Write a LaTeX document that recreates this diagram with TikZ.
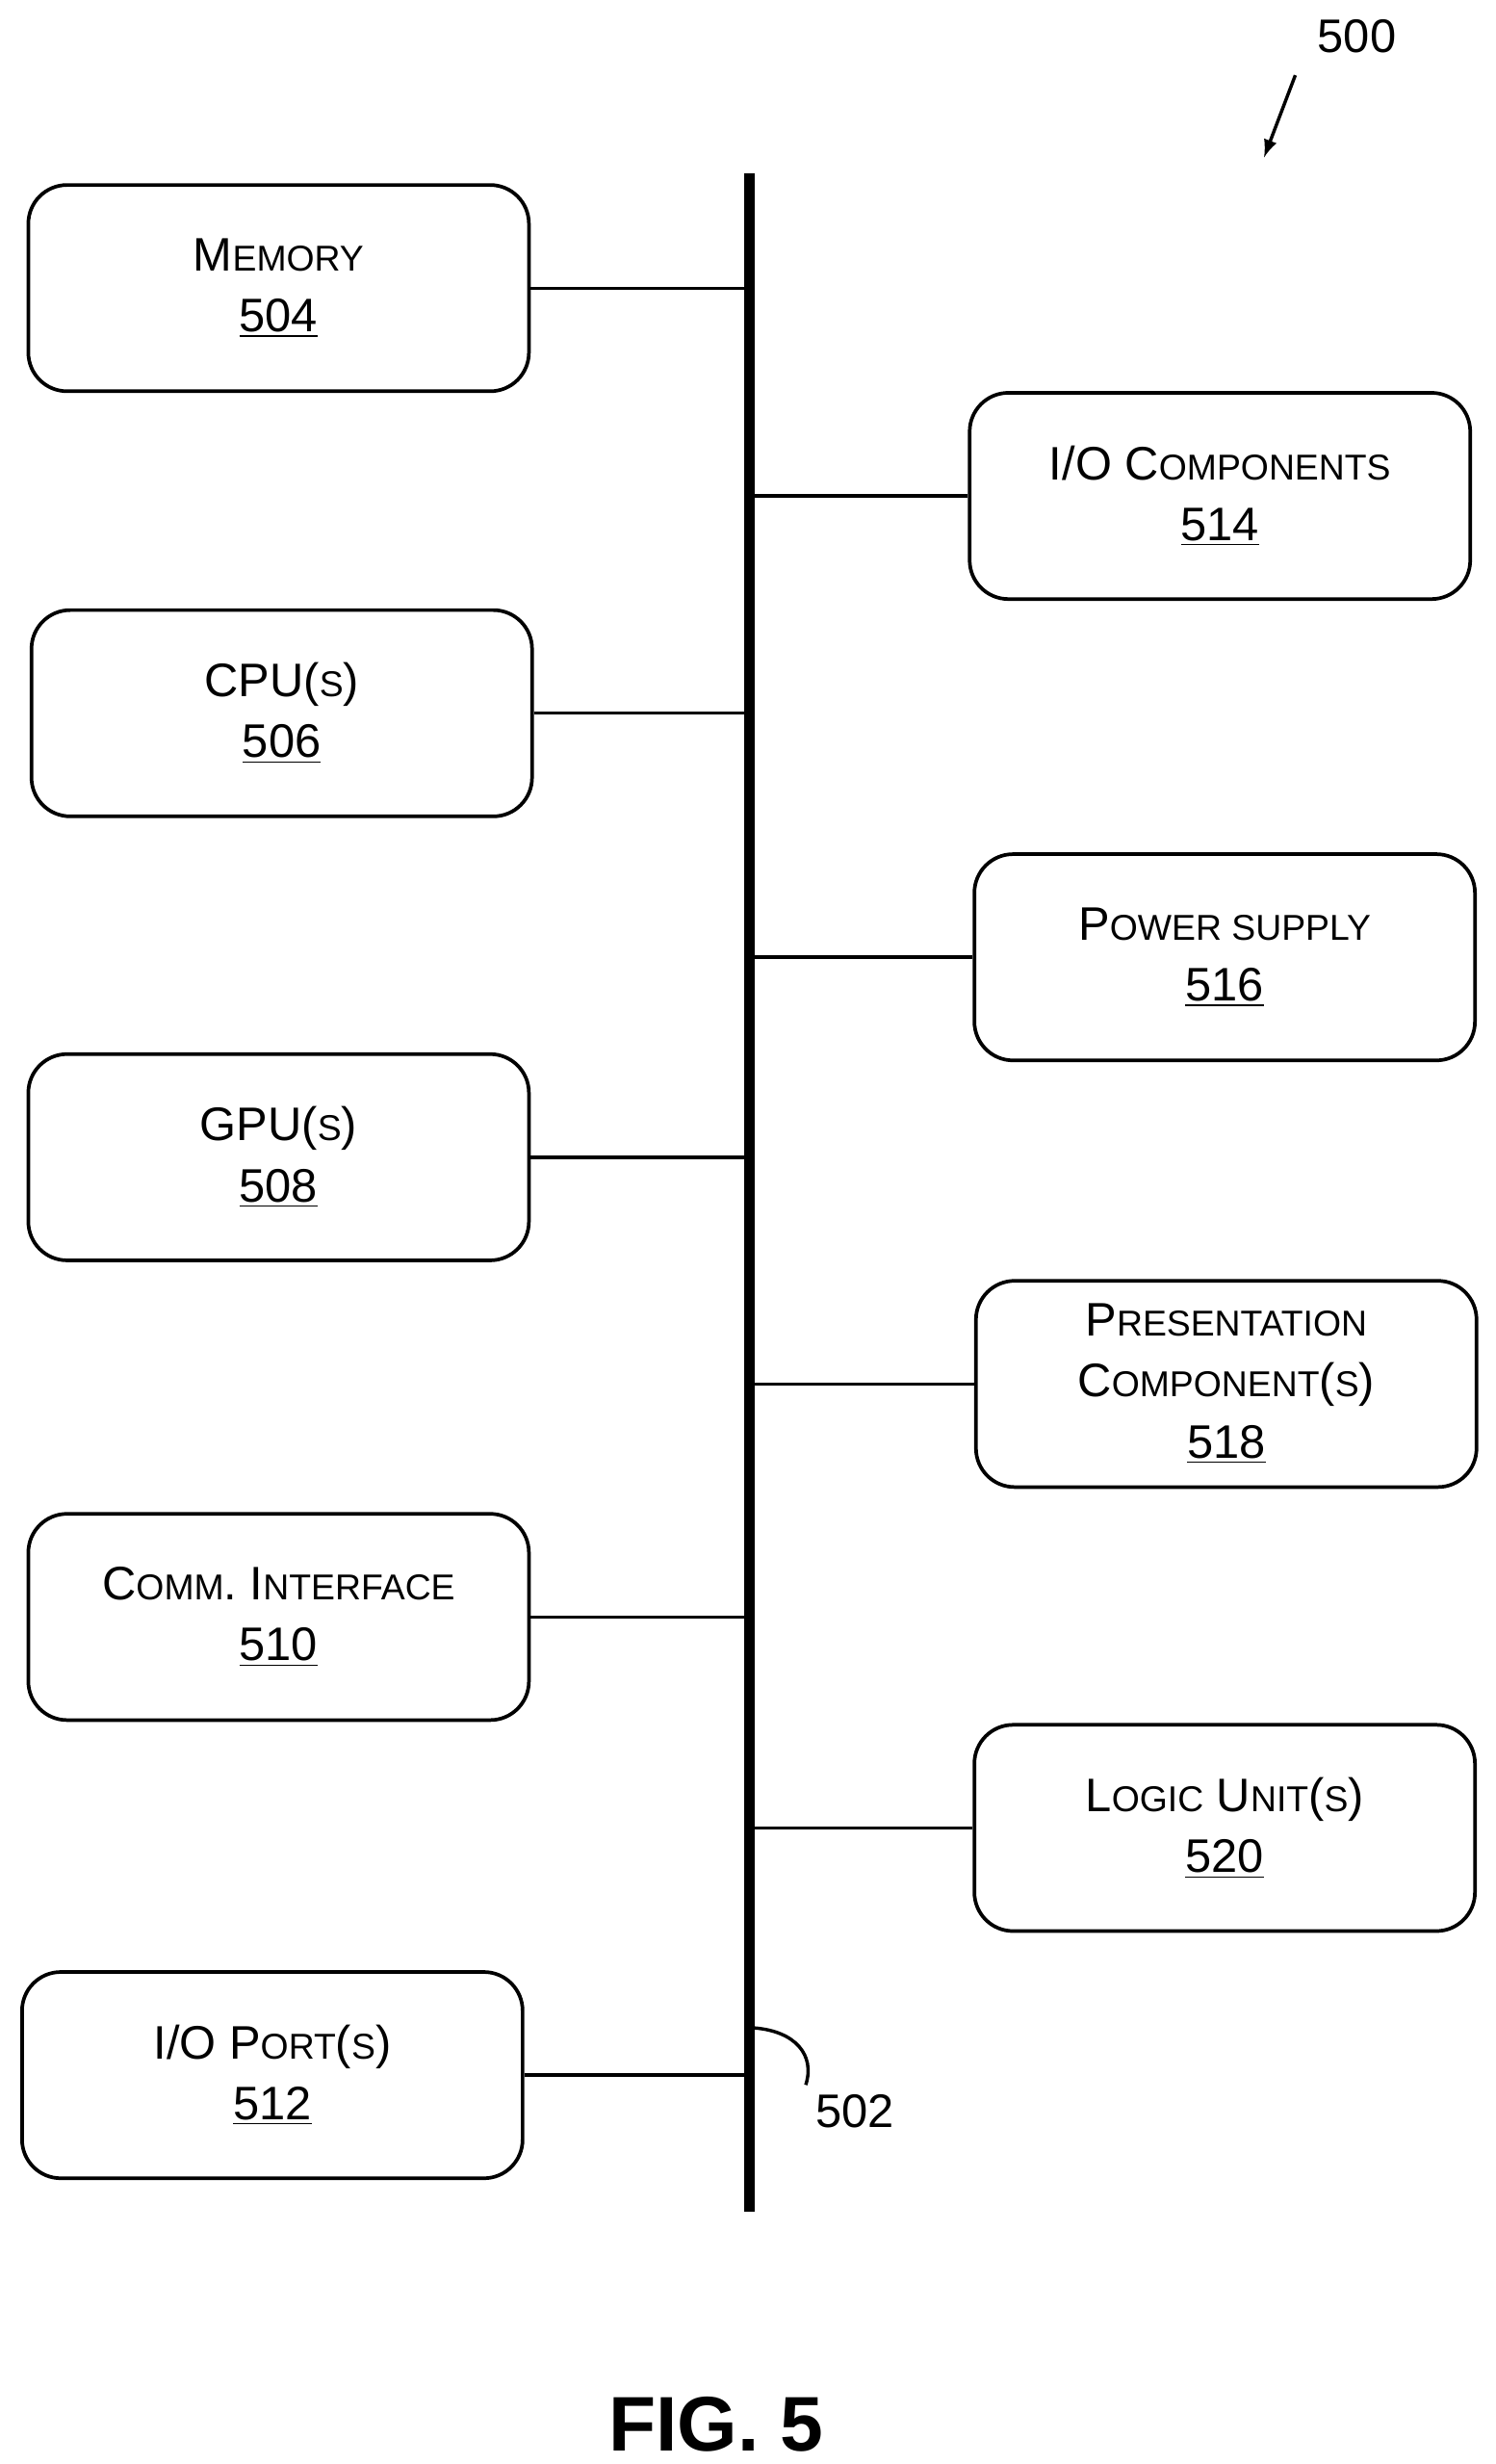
\documentclass[tikz,border=0pt]{standalone}
\usepackage{fontspec}
\setmainfont{Liberation Sans}
\newcommand\sm[1]{{\fontsize{13}{15}\selectfont\MakeUppercase{#1}}}
\begin{document}
\begin{tikzpicture}[x=0.02cm,y=-0.02cm,
 box/.style={draw,line width=1.3pt,rounded corners=14pt,minimum width=318*0.02cm,minimum height=131*0.02cm,align=center,font=\fontsize{17}{22}\selectfont},
 ln/.style={line width=1.2pt}]
\useasboundingbox (0,0) rectangle (950,1565);
\draw[line width=4pt] (476,110) coordinate (bt) -- (476,1405) coordinate (bb);
\node[box] (m) at (177,183) {M\sm{emory}\\\underline{504}};
\node[box] (c) at (179,453) {CPU(\sm{s})\\\underline{506}};
\node[box] (g) at (177,735) {GPU(\sm{s})\\\underline{508}};
\node[box] (ci) at (177,1027) {C\sm{omm}. I\sm{nterface}\\\underline{510}};
\node[box] (p) at (173,1318) {I/O P\sm{ort}(\sm{s})\\\underline{512}};
\node[box] (io) at (775,315) {I/O C\sm{omponents}\\\underline{514}};
\node[box] (ps) at (778,608) {P\sm{ower supply}\\\underline{516}};
\node[box] (pc) at (779,879) {P\sm{resentation}\\C\sm{omponent}(\sm{s})\\\underline{518}};
\node[box] (lu) at (778,1161) {L\sm{ogic} U\sm{nit}(\sm{s})\\\underline{520}};
\foreach \n/\y in {m/183,c/453,g/735,ci/1027,p/1318}{
 \coordinate (j\n) at (476,\y); \draw[ln] (\n.east) -- (j\n);}
\foreach \n/\y in {io/315,ps/608,pc/879,lu/1161}{
 \coordinate (j\n) at (476,\y); \draw[ln] (j\n) -- (\n.west);}
\node[font=\fontsize{17}{20}\selectfont] (l502) at (543,1341) {502};
\coordinate (c502) at (479,1288);
\draw[ln] (c502) .. controls (505,1290) and (518,1305) .. (l502.north west);
\node[font=\fontsize{17}{20}\selectfont] (l500) at (862,23) {500};
\coordinate (a500) at (803,100);
\draw[ln,-latex] (l500.south west) ++(-8,8) -- (a500);
\node[font=\bfseries\fontsize{28}{32}\selectfont] (fig) at (455,1540) {FIG. 5};
\end{tikzpicture}
\end{document}
